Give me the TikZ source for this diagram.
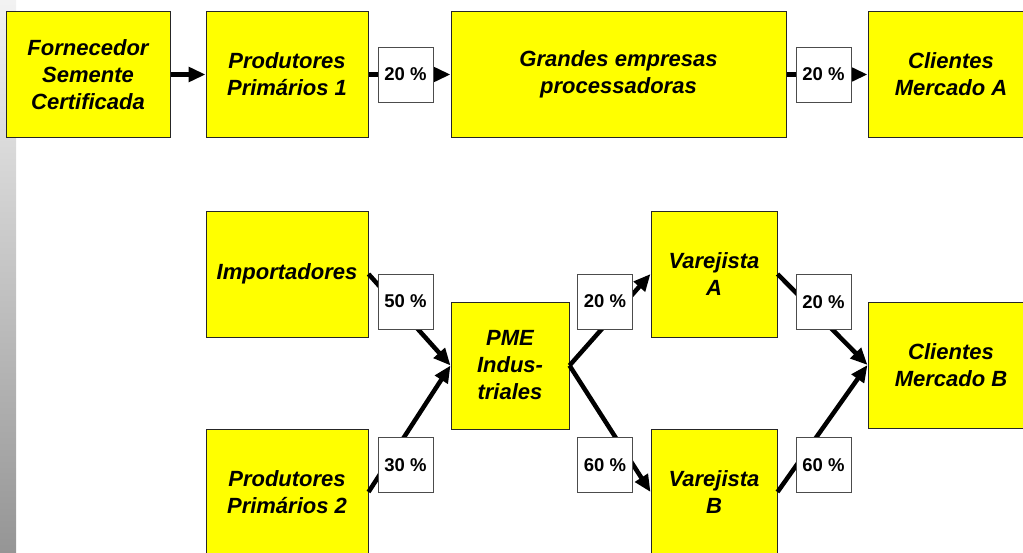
\documentclass[tikz,border=0pt]{standalone}
\usepackage{fontspec}
\setmainfont{Liberation Sans}
\usepackage{tikz}
\usetikzlibrary{arrows.meta}
\definecolor{boxyellow}{RGB}{255,255,0}
\tikzset{etapa/.style={draw=black!85, line width=1pt, fill=boxyellow, align=center, inner sep=0pt,
  font=\fontsize{22}{27}\selectfont\bfseries\itshape}}
\tikzset{pct/.style={draw=black!70, line width=0.9pt, fill=white, minimum width=55pt, minimum height=55pt,
  inner sep=0pt, font=\fontsize{18.5}{20}\selectfont\bfseries}}
\tikzset{fluxo/.style={line width=4.5pt, -{Triangle[length=17pt, width=14.5pt]}}}

\begin{document}
\begin{tikzpicture} [x=1pt, y=-1pt]
\useasboundingbox (0,0) rectangle (1023,552);
\clip (0,0) rectangle (1023,552);
\shade[top color=gray!10, bottom color=gray!83] (0,0) rectangle (16,552);
% cadeia A
\node[etapa, minimum width=164pt, minimum height=126pt] (forn) at (88,74.5) {Fornecedor\\Semente\\Certificada};
\node[etapa, minimum width=162pt, minimum height=126pt] (prodA) at (287,74.5) {Produtores\\Primários 1};
\node[etapa, minimum width=335pt, minimum height=126pt] (grandes) at (618.5,74.5) {Grandes empresas\\processadoras};
\node[etapa, minimum width=166pt, minimum height=126pt] (cliA) at (951,74.5) {Clientes\\Mercado A};
% cadeia B
\node[etapa, minimum width=162pt, minimum height=126pt] (imp) at (287,274) {Importadores};
\node[etapa, minimum width=162pt, minimum height=126pt] (prodB) at (287,492) {Produtores\\Primários 2};
\node[etapa, minimum width=118pt, minimum height=127pt] (pme) at (510,365.5) {PME\\Indus-\\triales};
\node[etapa, minimum width=126pt, minimum height=126pt] (varA) at (714,274) {Varejista\\A};
\node[etapa, minimum width=126pt, minimum height=126pt] (varB) at (714,492) {Varejista\\B};
\node[etapa, minimum width=166pt, minimum height=126pt] (cliB) at (951,365) {Clientes\\Mercado B};

\draw[fluxo] (forn.east) -- (prodA.west);
\draw[fluxo] (prodA.east) -- (grandes.west);
\draw[fluxo] (grandes.east) -- (cliA.west);
\draw[fluxo] (imp.east) -- (pme.west);
\draw[fluxo] (prodB.east) -- (pme.west);
\draw[fluxo] (pme.east) -- (varA.west);
\draw[fluxo] (pme.east) -- (varB.west);
\draw[fluxo] (varA.east) -- (cliB.west);
\draw[fluxo] (varB.east) -- (cliB.west);

% percentuais
\foreach \nome/\px/\py/\val in {pa1/405.5/74.5/20, pa2/823.5/74.5/20,
  pimp/405.5/301.5/50, pprod/405.5/465/30, pvarA/605/301.5/20, pvarB/605/465/60,
  pcliA/823.5/302/20, pcliB/823.5/465/60} {
 \node[pct] (\nome) at (\px,\py) {\val~\%};
}
\end{tikzpicture}
\end{document}
